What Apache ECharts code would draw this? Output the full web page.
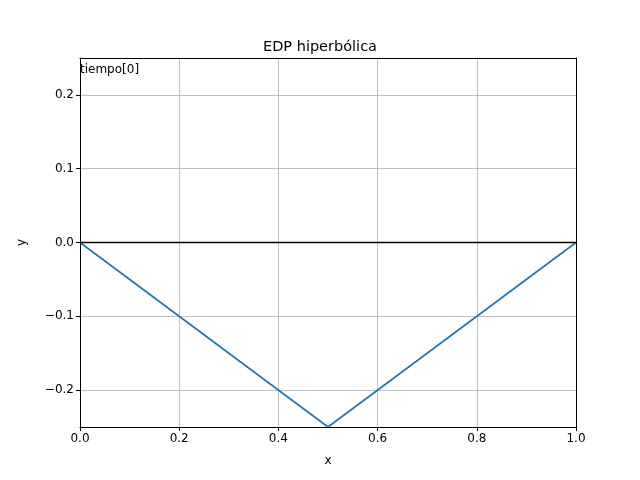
<!DOCTYPE html>
<html><head><meta charset="utf-8">
<script src="https://cdn.jsdelivr.net/npm/echarts@6/dist/echarts.min.js"></script>
<style>html,body{margin:0;padding:0;background:#fff}#c{width:640px;height:480px}</style>
</head><body><div id="c"></div>
<script>
const xs = [0, 0.5, 1];
const ys = [0, -0.25, 0];
const baseX = [0, 1];
const baseY = [0, 0];
const xTicks = [0, 0.2, 0.4, 0.6, 0.8, 1.0];
const yTicks = [-0.2, -0.1, 0, 0.1, 0.2];
const chart = echarts.init(document.getElementById('c'));
const font = 'DejaVu Sans';
const frame = {type: 'value', min: 0, max: 1, show: true, axisLine: {show: true, onZero: false, lineStyle: {color: '#000'}},
  axisTick: {show: false}, axisLabel: {show: false}, splitLine: {show: false}};
chart.setOption({
  animation: false,
  title: {text: 'EDP hiperbólica', left: 'center', top: 35, textStyle: {fontFamily: font, fontSize: 14.5, fontWeight: 'normal', color: '#000'}},
  grid: {left: 80, right: 64, top: 58, bottom: 53},
  graphic: [{type: 'text', left: 80, top: 64, style: {text: 'tiempo[0]', fontFamily: font, fontSize: 12, fill: '#000'}}],
  xAxis: [{type: 'value', min: 0, max: 1, interval: 0.2, name: 'x', nameLocation: 'middle', nameGap: 28,
    nameTextStyle: {fontFamily: font, fontSize: 12, color: '#000'},
    axisLine: {show: true, onZero: false, lineStyle: {color: '#000'}},
    axisTick: {show: true, length: 4, lineStyle: {color: '#000'}},
    axisLabel: {fontFamily: font, fontSize: 12, color: '#000', margin: 6, formatter: v => v.toFixed(1)},
    splitLine: {show: true, lineStyle: {color: '#b0b0b0', width: 0.8}}},
    Object.assign({position: 'top'}, frame)],
  yAxis: [{type: 'value', min: -0.25, max: 0.25, name: 'y', nameLocation: 'middle', nameGap: 52,
    nameTextStyle: {fontFamily: font, fontSize: 12, color: '#000'},
    axisLine: {show: true, onZero: false, lineStyle: {color: '#000'}},
    axisTick: {show: true, length: 4, lineStyle: {color: '#000'}, customValues: yTicks},
    axisLabel: {fontFamily: font, fontSize: 12, color: '#000', margin: 6, customValues: yTicks,
      formatter: v => (v < 0 ? '\u2212' + Math.abs(v).toFixed(1) : v.toFixed(1))},
    splitLine: {show: true, lineStyle: {color: '#b0b0b0', width: 0.8}}},
    Object.assign({position: 'right'}, frame)],
  series: [
    {type: 'line', data: xs.map((x, i) => [x, ys[i]]), showSymbol: false, lineStyle: {color: '#1f77b4', width: 1.7}, z: 3},
    {type: 'line', data: baseX.map((x, i) => [x, baseY[i]]), showSymbol: false, lineStyle: {color: '#000', width: 1.7}, z: 4}
  ]
});
</script></body></html>
